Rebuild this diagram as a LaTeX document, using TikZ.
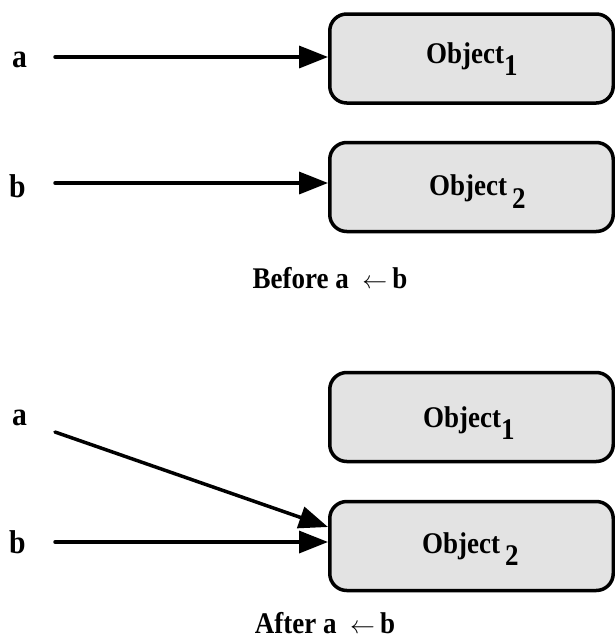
\documentclass[tikz,border=0pt]{standalone}
\usepackage{fontspec}
\setmainfont{Liberation Serif}[FakeStretch=0.9]
\usetikzlibrary{arrows.meta,calc}
\tikzset{
  objbox/.style={draw=black, line width=3.5pt, fill=black!11, rounded corners=17pt,
    minimum width=283.5pt, minimum height=89pt, inner sep=0pt},
  arr/.style={line width=3.5pt, line cap=round, -{Triangle[length=29pt,width=22pt]}},
  objtxt/.style={anchor=base west, inner sep=0pt, font=\fontsize{30}{30}\selectfont\bfseries},
  vartxt/.style={anchor=base west, inner sep=0pt, font=\fontsize{33}{33}\selectfont\bfseries},
  captxt/.style={anchor=base, inner sep=0pt, font=\fontsize{30}{30}\selectfont\bfseries}
}
\begin{document}
\begin{tikzpicture}[x=1pt,y=-1pt]
\useasboundingbox (0,0) rectangle (615,640);
% ---- Before ----
\node[objbox] (o1) at (471.5,58.5) {};
\node[objbox] (o2) at (471.5,187) {};
\node[objtxt] (t1) at (426,63) {Object\raisebox{-12pt}{1}};
\node[objtxt] (t2) at (429,195) {Object\,\raisebox{-13pt}{2}};
\node[vartxt] (la) at (12,67) {a};
\node[vartxt] (lb) at (9,197) {b};
\coordinate (sa) at (55,57);
\coordinate (sb) at (55,183);
\draw[arr] (sa) -- (sa -| o1.west);
\draw[arr] (sb) -- (sb -| o2.west);
\node[captxt] (c1) at (330,288) {Before a\ \ $\leftarrow$\,b};
% ---- After ----
\node[objbox] (o3) at (471.5,417) {};
\node[objbox] (o4) at (471.5,546) {};
\node[objtxt] (t3) at (423,427) {Object\raisebox{-12pt}{1}};
\node[objtxt] (t4) at (422,553) {Object\,\raisebox{-12pt}{2}};
\node[vartxt] (la2) at (12,425) {a};
\node[vartxt] (lb2) at (9,553) {b};
\coordinate (sa2) at (55,432);
\coordinate (sb2) at (55,542);
\coordinate (ea2) at ($(o4.west)+(0,-19)$);
\draw[arr] (sa2) -- (ea2);
\draw[arr] (sb2) -- (sb2 -| o4.west);
\node[captxt] (c2) at (325,633) {After a\ \ $\leftarrow$\,b};
\end{tikzpicture}
\end{document}
